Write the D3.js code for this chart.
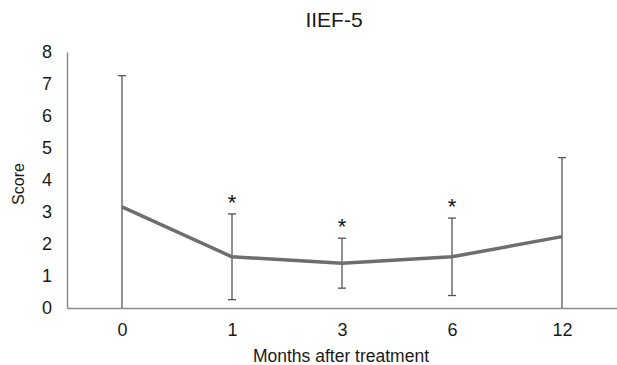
<!DOCTYPE html>
<html>
<head>
<meta charset="utf-8">
<script src="https://cdn.jsdelivr.net/npm/d3@7"></script>
<style>
  html, body { margin: 0; padding: 0; background: #fff; }
  svg { display: block; font-family: "Liberation Sans", Arial, sans-serif; }
</style>
</head>
<body>
<svg id="chart" width="617" height="365"></svg>
<script>
// IIEF-5 score over follow-up (mean ± SD)
const months = ["0", "1", "3", "6", "12"];
const meanScore = [3.16, 1.60, 1.40, 1.60, 2.23];
const sdScore = [4.10, 1.34, 0.78, 1.21, 2.47];
const significant = [false, true, true, true, false];
const yTicks = [0, 1, 2, 3, 4, 5, 6, 7, 8];

const svg = d3.select("#chart");
const margin = { left: 67, right: 0, top: 52, bottom: 57 };
const W = 617, H = 365;
const font = "Liberation Sans, Arial, sans-serif";
const textColor = "#1a1a1a";

const x = d3.scalePoint().domain(months).range([margin.left, W - margin.right]).padding(0.5);
const y = d3.scaleLinear().domain([0, 8]).range([H - margin.bottom, margin.top]);

const axisColor = "#8c8c8c";

// axes
const yAxis = svg.append("g")
  .attr("transform", `translate(${margin.left},0)`)
  .call(d3.axisLeft(y).tickValues(yTicks).tickSize(0).tickPadding(15));
yAxis.select(".domain").attr("stroke", axisColor).attr("stroke-width", 1.5);
yAxis.selectAll("text").attr("font-size", 18).attr("fill", textColor).attr("font-family", font);

const xAxis = svg.append("g")
  .attr("transform", `translate(0,${y(0)})`)
  .call(d3.axisBottom(x).tickSize(0).tickPadding(15));
xAxis.select(".domain").attr("stroke", axisColor).attr("stroke-width", 1.5);
xAxis.selectAll("text").attr("font-size", 18).attr("fill", textColor).attr("font-family", font);

// error bars (clipped at zero)
const rows = months.map((m, i) => ({ m, mean: meanScore[i], sd: sdScore[i], sig: significant[i] }));
const eb = svg.append("g").attr("stroke", "#555").attr("stroke-width", 1.3).attr("fill", "none");
rows.forEach(d => {
  const lo = Math.max(0, d.mean - d.sd), hi = d.mean + d.sd;
  const cx = x(d.m);
  eb.append("line").attr("x1", cx).attr("x2", cx).attr("y1", y(lo)).attr("y2", y(hi));
  eb.append("line").attr("x1", cx - 4).attr("x2", cx + 4).attr("y1", y(hi)).attr("y2", y(hi));
  if (d.mean - d.sd > 0) {
    eb.append("line").attr("x1", cx - 4).attr("x2", cx + 4).attr("y1", y(lo)).attr("y2", y(lo));
  }
});

// mean line
svg.append("path")
  .datum(rows)
  .attr("fill", "none")
  .attr("stroke", "#6e6e6e")
  .attr("stroke-width", 3.5)
  .attr("stroke-linejoin", "round")
  .attr("d", d3.line().x(d => x(d.m)).y(d => y(d.mean)));

// significance markers
svg.append("g").selectAll("text")
  .data(rows.filter(d => d.sig))
  .join("text")
  .attr("x", d => x(d.m))
  .attr("y", d => y(d.mean + d.sd) - 4)
  .attr("text-anchor", "middle")
  .attr("font-size", 22)
  .attr("fill", "#111")
  .text("*");

// title and axis labels
svg.append("text").attr("x", 334).attr("y", 27).attr("text-anchor", "middle")
  .attr("font-size", 21).attr("fill", textColor).text("IIEF-5");
svg.append("text").attr("x", 341).attr("y", 362).attr("text-anchor", "middle")
  .attr("font-size", 17.5).attr("fill", textColor).text("Months after treatment");
svg.append("text").attr("transform", "translate(24,184) rotate(-90)").attr("text-anchor", "middle")
  .attr("font-size", 16).attr("fill", textColor).text("Score");
</script>
</body>
</html>
